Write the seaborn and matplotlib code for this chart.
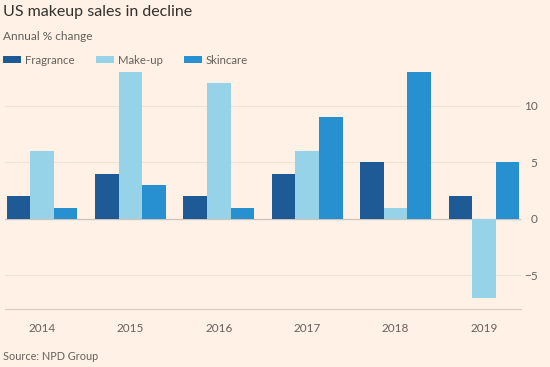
import pandas as pd
import matplotlib.pyplot as plt
import seaborn as sns

# data
years = ["2014", "2015", "2016", "2017", "2018", "2019"]
fragrance = [2, 4, 2, 4, 5, 2]
makeup = [6, 13, 12, 6, 1, -7]
skincare = [1, 3, 1, 9, 13, 5]
series_names = ["Fragrance", "Make-up", "Skincare"]

df = pd.DataFrame({
    "year": years * 3,
    "value": fragrance + makeup + skincare,
    "series": [s for s in series_names for _ in years],
})

bg = "#fff1e5"
grey = "#66605c"
palette = {"Fragrance": "#1d5a96", "Make-up": "#96d3e9", "Skincare": "#2690d0"}

sns.set_style("white")
plt.rcParams["font.family"] = ["Lato", "DejaVu Sans"]

fig = plt.figure(figsize=(5.5, 3.67), dpi=100, facecolor=bg)
ax = fig.add_axes([5 / 550, 1 - 309.3 / 367, 516 / 550, 237.3 / 367])
ax.set_facecolor(bg)

sns.barplot(data=df, x="year", y="value", hue="series", palette=palette,
            width=0.8, saturation=1, linewidth=0, ax=ax, zorder=3)

ax.set_ylim(-8, 13)
ax.set_xlim(-0.42, 5.42)
ax.set_yticks([-5, 0, 5, 10])
ax.yaxis.tick_right()
ax.grid(axis="y", color="#efe2d6", linewidth=0.8, zorder=0)
ax.axhline(0, color="#cdc3ba", linewidth=0.9, zorder=2)
ax.set_xlabel("")
ax.set_ylabel("")

for s in ["top", "left", "right"]:
    ax.spines[s].set_visible(False)
ax.spines["bottom"].set_color("#d6ccc2")
ax.spines["bottom"].set_linewidth(0.8)

ax.tick_params(axis="y", length=0, pad=12, labelsize=8.5, labelcolor=grey)
for lab in ax.get_yticklabels():
    lab.set_horizontalalignment("right")
ax.tick_params(axis="x", length=4, width=0.8, color="#d6ccc2", pad=6,
               labelsize=8.5, labelcolor=grey)

handles, labels = ax.get_legend_handles_labels()
ax.get_legend().remove()
fig.legend(handles, labels, loc="center left", bbox_to_anchor=(0.005, 1 - 60 / 367),
           ncol=3, frameon=False, fontsize=8.2, labelcolor=grey,
           handlelength=1.6, handleheight=0.55, handletextpad=0.35,
           columnspacing=1.85, borderaxespad=0, borderpad=0)

fig.text(3 / 550, 1 - 12 / 367, "US makeup sales in decline", fontsize=11.5,
         color="#33302e", va="center", ha="left")
fig.text(3 / 550, 1 - 36 / 367, "Annual % change", fontsize=8.6,
         color=grey, va="center", ha="left")
fig.text(3 / 550, 1 - 356 / 367, "Source: NPD Group", fontsize=7.8,
         color=grey, va="center", ha="left")

fig.savefig("out.png", dpi=100, facecolor=bg)
